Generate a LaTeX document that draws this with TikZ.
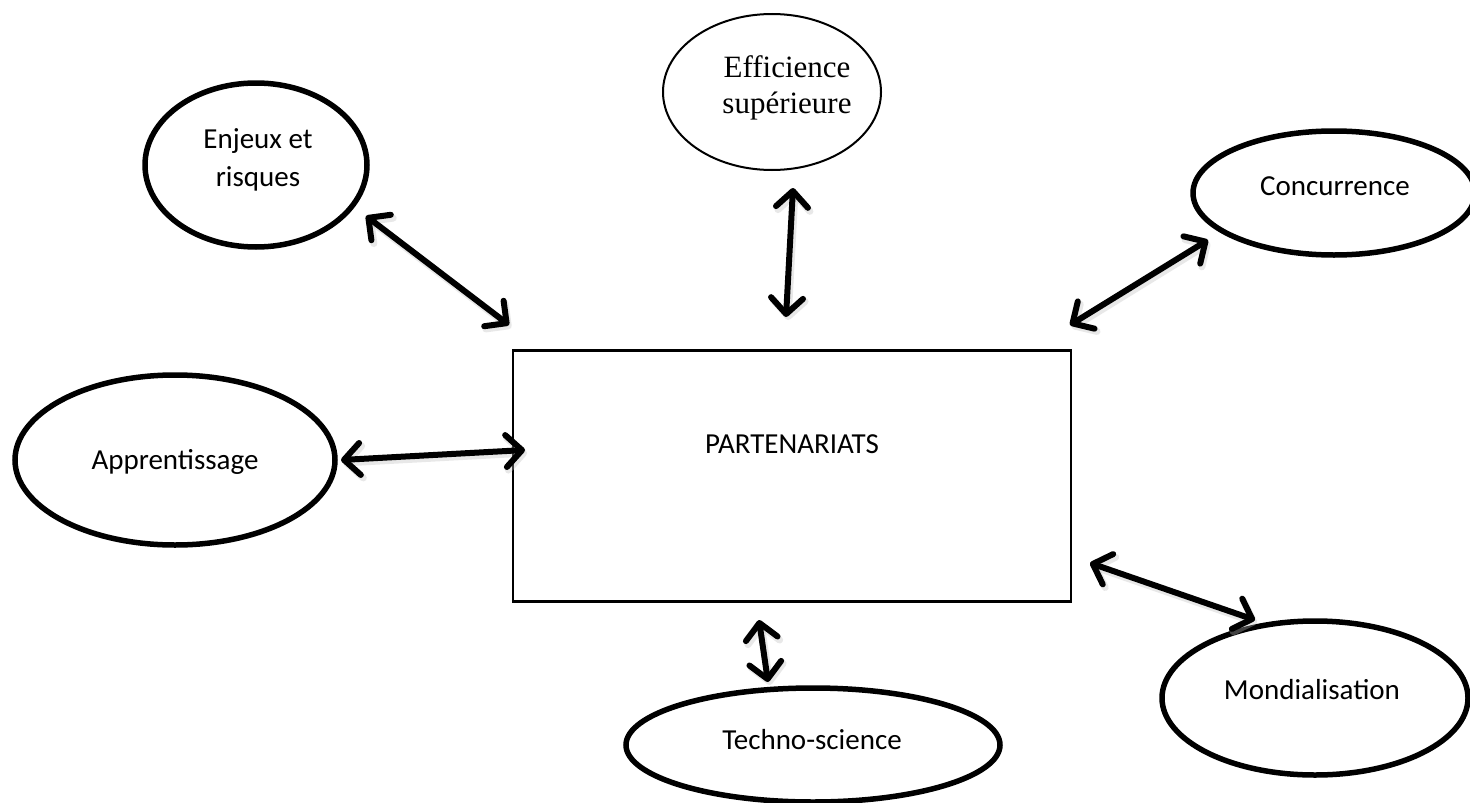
\documentclass[tikz,border=0pt]{standalone}
\usepackage{fontspec}
\setmainfont{Carlito}
\newfontfamily\serifface{Liberation Serif}
\usetikzlibrary{shapes.geometric,arrows.meta}

\tikzset{
  bubble/.style={ellipse, draw=black, line width=5.5pt, inner sep=0pt},
  thinbubble/.style={ellipse, draw=black, line width=2pt, inner sep=0pt},
  core/.style={rectangle, draw=black, line width=2.5pt, inner sep=0pt},
  lbl/.style={align=center, font=\fontsize{29}{38}\selectfont, inner sep=0pt},
  barb/.tip={Straight Barb[length=16pt,width=32pt,line cap=round,line join=round]},
  link/.style={line width=6pt, barb-barb,
    preaction={draw=black!25, opacity=0.35, line width=7pt,
      transform canvas={shift={(2pt,-3pt)}}}},
}

\begin{document}
\begin{tikzpicture}[x=1pt, y=-1pt]
  \useasboundingbox[fill=white] (0,0) rectangle (1470,803);

  % central box
  \node[core, minimum width=558pt, minimum height=251pt] (part) at (792,476) {};
  \node[lbl] (partlbl) at (792,444) {PARTENARIATS};

  % surrounding themes
  \node[bubble, minimum width=222pt, minimum height=164pt] (enj) at (256,165) {};
  \node[lbl] (enjlbl) at (258,160) {Enjeux et\\risques};

  \node[thinbubble, minimum width=218pt, minimum height=156pt] (eff) at (772,92) {};
  \node[align=center, inner sep=0pt, font=\serifface\fontsize{31}{36}\selectfont] (efflbl) at (787,88) {Efficience\\supérieure};

  \node[bubble, minimum width=282pt, minimum height=124pt] (con) at (1334,193) {};
  \node[lbl] (conlbl) at (1335,186) {Concurrence};

  \node[bubble, minimum width=320pt, minimum height=170pt] (app) at (175,460) {};
  \node[lbl] (applbl) at (175,462) {Apprentissage};

  \node[bubble, minimum width=374pt, minimum height=114pt] (tec) at (813,745) {};
  \node[lbl] (teclbl) at (812,740) {Techno-science};

  \node[bubble, minimum width=306pt, minimum height=154pt] (mon) at (1315,698) {};
  \node[lbl] (monlbl) at (1312,690) {Mondialisation};

  % arrow end points
  \coordinate (enjA) at (366,216);  \coordinate (enjB) at (509,325);
  \coordinate (effA) at (793,188);  \coordinate (effB) at (786,317);
  \coordinate (conA) at (1208,240); \coordinate (conB) at (1070,325);
  \coordinate (appA) at (341,460);  \coordinate (appB) at (525,450);
  \coordinate (monA) at (1090,563); \coordinate (monB) at (1255,620);
  \coordinate (tecA) at (759,620);  \coordinate (tecB) at (768,682);

  % two-way links
  \draw[link] (enjA) -- (enjB);
  \draw[link] (effA) -- (effB);
  \draw[link] (conA) -- (conB);
  \draw[link] (appA) -- (appB);
  \draw[link] (monA) -- (monB);
  \draw[link] (tecA) -- (tecB);
\end{tikzpicture}
\end{document}
